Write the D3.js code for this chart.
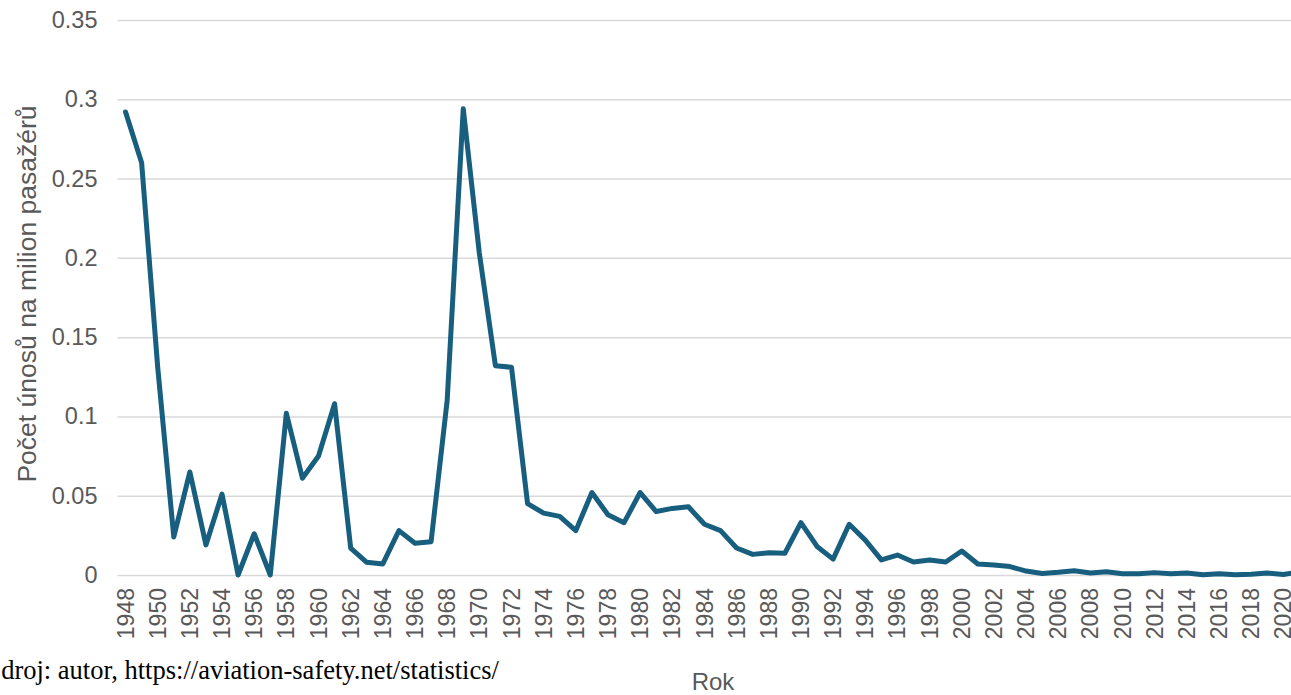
<!DOCTYPE html>
<html>
<head>
<meta charset="utf-8">
<script src="https://cdn.jsdelivr.net/npm/d3@7"></script>
<style>
  html, body { margin: 0; padding: 0; background: #fff; overflow: hidden; }
  svg { display: block; }
</style>
</head>
<body>
<svg id="chart" width="1291" height="695"></svg>
<script>
// ---- data ----
const years = d3.range(1948, 2022);
const values = [
  0.292, 0.260, 0.131, 0.024, 0.065, 0.019, 0.051, 0.000, 0.026, 0.000,
  0.102, 0.061, 0.075, 0.108, 0.017, 0.008, 0.007, 0.028, 0.020, 0.021,
  0.110, 0.294, 0.203, 0.132, 0.131, 0.045, 0.039, 0.037, 0.028, 0.052,
  0.038, 0.033, 0.052, 0.040, 0.042, 0.043, 0.032, 0.028, 0.017, 0.013,
  0.014, 0.0137, 0.033, 0.018, 0.010, 0.032, 0.022, 0.0095, 0.0126, 0.0082,
  0.0095, 0.0082, 0.0151, 0.0069, 0.0063, 0.0053, 0.0025, 0.0010, 0.0017, 0.0027,
  0.0013, 0.0021, 0.0008, 0.0008, 0.0015, 0.0008, 0.0012, 0.0002, 0.0008, 0.0002,
  0.0005, 0.0012, 0.0003, 0.0020
];
const yTicks = [0, 0.05, 0.1, 0.15, 0.2, 0.25, 0.3, 0.35];
const yTickLabels = ["0", "0.05", "0.1", "0.15", "0.2", "0.25", "0.3", "0.35"];
const xTickYears = years.filter(y => (y - 1948) % 2 === 0);
const yTitle = "Počet únosů na milion pasažérů";
const xTitle = "Rok";
const sourceText = "Zdroj: autor, https://aviation-safety.net/statistics/";

// ---- layout ----
const svg = d3.select("#chart");
const plotLeft = 117.5, plotRight = 1307.5, plotTop = 20, plotBottom = 575;

const x = d3.scaleBand().domain(years).range([plotLeft, plotRight]).padding(0);
const xc = d => x(d) + x.bandwidth() / 2;
const y = d3.scaleLinear().domain([0, 0.35]).range([plotBottom, plotTop]);

const labelColor = "#595959";
const gridColor = "#d9d9d9";

// grid + y axis
const yAxis = d3.axisLeft(y)
  .tickValues(yTicks)
  .tickFormat((d, i) => yTickLabels[i])
  .tickSize(-(plotRight - plotLeft))
  .tickPadding(20);

const gy = svg.append("g")
  .attr("transform", `translate(${plotLeft},0)`)
  .call(yAxis);
gy.select(".domain").remove();
gy.selectAll(".tick line").attr("stroke", gridColor).attr("stroke-width", 1.5);
gy.selectAll(".tick text")
  .attr("fill", labelColor)
  .style("font-family", "'Liberation Sans', Arial, sans-serif")
  .style("font-size", "23.5px");

// x axis labels
const xAxis = d3.axisBottom(x)
  .tickValues(xTickYears)
  .tickSize(0)
  .tickPadding(0);
const gx = svg.append("g")
  .attr("transform", `translate(0,${plotBottom})`)
  .call(xAxis);
gx.select(".domain").remove();
gx.selectAll(".tick text")
  .attr("fill", labelColor)
  .style("font-family", "'Liberation Sans', Arial, sans-serif")
  .style("font-size", "23px")
  .attr("transform", "rotate(-90)")
  .attr("text-anchor", "end")
  .attr("x", -13)
  .attr("y", 0)
  .attr("dy", "0.35em");

// line
const line = d3.line()
  .x((d, i) => xc(years[i]))
  .y(d => y(d));
svg.append("path")
  .datum(values)
  .attr("fill", "none")
  .attr("stroke", "#175e7f")
  .attr("stroke-width", 5)
  .attr("stroke-linejoin", "round")
  .attr("stroke-linecap", "round")
  .attr("d", line);

// y title
svg.append("text")
  .attr("transform", `translate(36,${294}) rotate(-90)`)
  .attr("text-anchor", "middle")
  .attr("fill", labelColor)
  .style("font-family", "'Liberation Sans', Arial, sans-serif")
  .style("font-size", "26.5px")
  .text(yTitle);

// x title
svg.append("text")
  .attr("x", 713)
  .attr("y", 690)
  .attr("text-anchor", "middle")
  .attr("fill", labelColor)
  .style("font-family", "'Liberation Sans', Arial, sans-serif")
  .style("font-size", "24px")
  .text(xTitle);

// source note
svg.append("text")
  .attr("x", -15)
  .attr("y", 679)
  .attr("fill", "#000")
  .style("font-family", "'Liberation Serif', 'Times New Roman', serif")
  .style("font-size", "26.5px")
  .text(sourceText);
</script>
</body>
</html>
